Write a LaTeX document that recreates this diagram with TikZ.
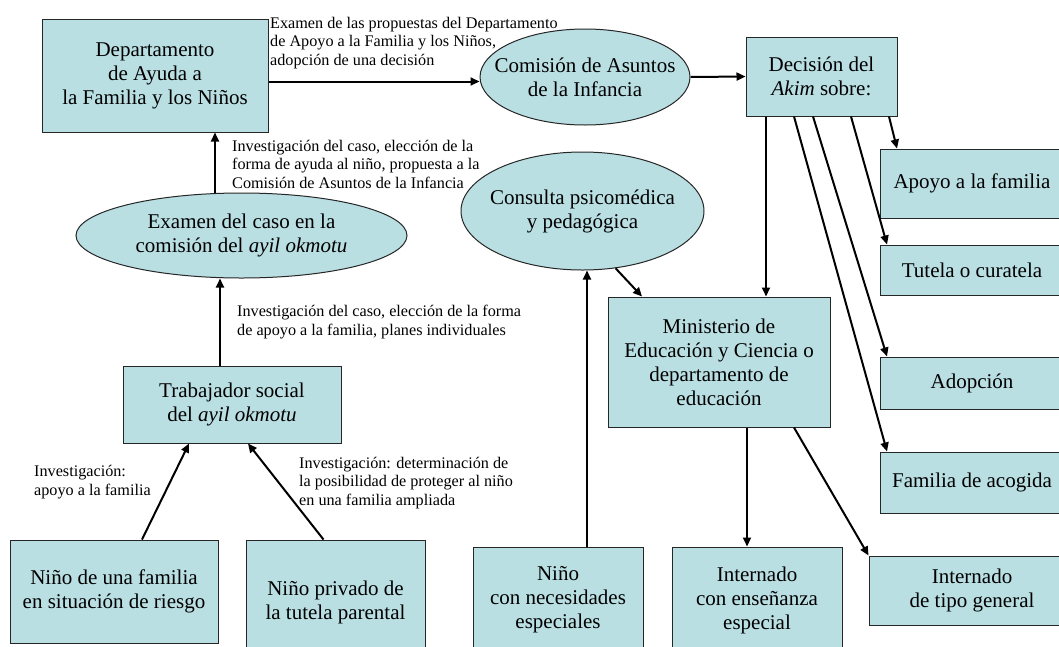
\documentclass[tikz,border=0pt]{standalone}
\usepackage{fontspec}
\setmainfont{Liberation Serif}
\usetikzlibrary{arrows.meta,shapes.geometric}
\definecolor{boxfill}{RGB}{185,223,227}
\begin{document}
\begin{tikzpicture}
  [x=1pt, y=-1pt,
   box/.style={draw=black!85, line width=1pt, fill=boxfill, inner sep=0pt,
     align=center, font=\fontsize{21}{24}\selectfont},
   oval/.style={box, ellipse, inner xsep=-60pt, inner ysep=-20pt},
   note/.style={anchor=west, inner sep=0pt, align=left,
     font=\fontsize{16.2}{18.5}\selectfont},
   arr/.style={line width=2pt, -{Triangle[length=9pt,width=8pt]}}]
  \useasboundingbox (0,0) rectangle (1059,646);
  \node[box, minimum width=226, minimum height=113] (dept) at (155,75.5)
    {Departamento\\de Ayuda a\\la Familia y los Niños};
  \node[oval, minimum width=210, minimum height=96] (com) at (585,77)
    {Comisión de Asuntos\\de la Infancia};
  \node[box, minimum width=151, minimum height=79] (dec) at (821.5,76.5)
    {Decisión del\\\textit{Akim} sobre:};
  \node[oval, minimum width=331, minimum height=85] (exa) at (241.5,235.5)
    {Examen del caso en la\\comisión del \textit{ayil okmotu}};
  \node[box, minimum width=218, minimum height=77] (trab) at (232,404.5)
    {Trabajador social\\del \textit{ayil okmotu}};
  \node[oval, minimum width=243, minimum height=118] (cons) at (582.5,211)
    {Consulta psicomédica\\y pedagógica};
  \node[box, minimum width=222, minimum height=130] (min) at (719,362)
    {Ministerio de\\Educación y Ciencia o\\departamento de\\educación};
  \node[box, minimum width=184, minimum height=69] (apoyo) at (972,183.5)
    {Apoyo a la familia};
  \node[box, minimum width=184, minimum height=50] (tutela) at (972,270)
    {Tutela o curatela};
  \node[box, minimum width=184, minimum height=52] (adop) at (972,383)
    {Adopción};
  \node[box, minimum width=184, minimum height=61] (fam) at (972,482.5)
    {Familia de acogida};
  \node[box, minimum width=206, minimum height=69] (intg) at (972,590.5)
    {Internado\\de tipo general};
  \node[box, minimum width=170, minimum height=106] (inte) at (757,600)
    {Internado\\con enseñanza\\especial};
  \node[box, minimum width=170, minimum height=106] (nec) at (558,600)
    {Niño\\con necesidades\\especiales};
  \node[box, minimum width=208, minimum height=103] (nfam) at (114,591.5)
    {Niño de una familia\\en situación de riesgo};
  \node[box, minimum width=179, minimum height=124] (npriv) at (335.5,602)
    {Niño privado de\\la tutela parental};

  \node[note] (l1) at (270,43)
    {Examen de las propuestas del Departamento\\de Apoyo a la Familia y los Niños,\\adopción de una decisión};
  \node[note] (l2) at (232,164)
    {Investigación del caso, elección de la\\forma de ayuda al niño, propuesta a la\\Comisión de Asuntos de la Infancia};
  \node[note] (l3) at (237,322)
    {Investigación del caso, elección de la forma\\de apoyo a la familia, planes individuales};
  \node[note] (l4) at (34,482)
    {Investigación:\\apoyo a la familia};
  \node[note] (l5) at (299,483)
    {Investigación: determinación de\\la posibilidad de proteger al niño\\en una familia ampliada};

  \draw[arr] ([yshift=-6pt]dept.east) -- ([yshift=-6pt]dept.east -| com.west);
  \draw[arr] (com.east) -- (dec.west);
  \draw[arr] (exa.122) -- (exa.122 |- dept.south);
  \draw[arr] ([xshift=-12pt]trab.north) -- ([xshift=-12pt]trab.north |- exa.south);
  \draw[arr] ([xshift=28pt]nfam.north) -- ([xshift=-43pt]trab.south);
  \draw[arr] ([xshift=-12pt]npriv.north) -- ([xshift=16pt]trab.south);
  \draw[arr] ([xshift=29pt]nec.north) -- ([xshift=29pt]nec.north |- cons.south);
  \draw[arr] (cons.-60) -- ([xshift=-77pt]min.north);
  \draw[arr] ([xshift=-55.5pt]dec.south) -- ([xshift=-55.5pt]dec.south |- min.north);
  \draw[arr] ([xshift=67.5pt]dec.south) -- ([xshift=-75pt]apoyo.north);
  \draw[arr] ([xshift=29.5pt]dec.south) -- ([xshift=-85pt]tutela.north);
  \draw[arr] ([xshift=-8.5pt]dec.south) -- ([xshift=-85pt]adop.north);
  \draw[arr] ([xshift=-27.5pt]dec.south) -- ([xshift=-85pt]fam.north);
  \draw[arr] ([xshift=28pt]min.south) -- ([xshift=-10pt]inte.north);
  \draw[arr] ([xshift=75pt]min.south) -- (intg.north west);
\end{tikzpicture}
\end{document}
